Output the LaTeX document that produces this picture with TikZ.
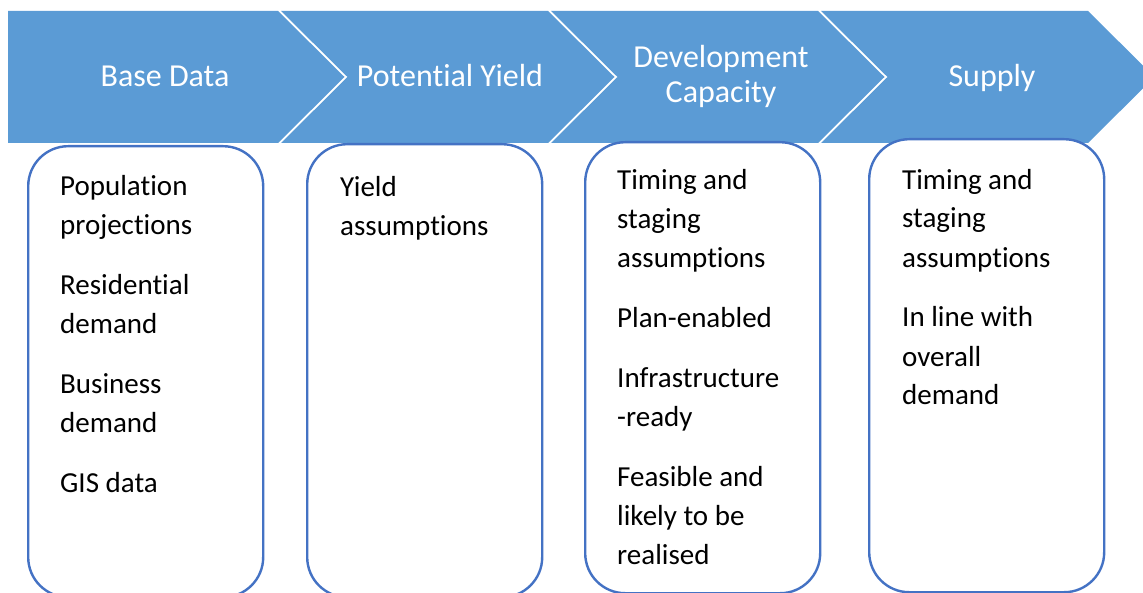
\documentclass[tikz,border=0pt]{standalone}
\usepackage{fontspec}
\setmainfont{Carlito}[Ligatures=NoCommon]
\usetikzlibrary{positioning}
\definecolor{bleu}{RGB}{91,155,213}
\definecolor{trait}{RGB}{68,114,196}

\begin{document}
\begin{tikzpicture}[x=1pt,y=-1pt,
  titre/.style={text=white,font=\fontsize{32}{35}\selectfont,align=center,anchor=base,inner sep=0pt},
  boite/.style={draw=trait,line width=2.4pt,fill=white,rounded corners=40pt,minimum width=235pt,anchor=north west,inner sep=0pt},
  liste/.style={font=\fontsize{29}{39}\selectfont,align=left,anchor=base west,inner sep=0pt}]
\useasboundingbox (0,0) rectangle (1143,593);
\clip (0,0) rectangle (1143,593);
% bandeau des etapes
\def\chevron{(0,0)--(267,0)--(333.5,66)--(267,132)--(0,132)--(66.5,66)--cycle}
\fill[bleu](8,11)--(278,11)--(344.5,77)--(278,143)--(8,143)--cycle;
\foreach \i in {0,1,2}
  \fill[bleu,shift={(281+270*\i,11)}] \chevron;
% la base d'un texte sur plusieurs lignes est celle de la derniere ligne
\node[titre] (tbase) at (165,87) {Base Data};
\node[titre] (trend) at (450,87) {Potential Yield};
\node[titre] (tcapa) at (721,103) {Development\\Capacity};
\node[titre] (toffre) at (992,87) {Supply};
% colonnes
\node[boite,minimum height=451pt] (bbase) at (27,145) {};
\node[boite,minimum height=453pt] (brend) at (306,143) {};
\node[boite,minimum height=451pt] (bcapa) at (584,141) {};
\node[boite,minimum height=453pt] (boffre) at (868,138) {};
\node[liste] (lbase) at (60,492) {Population\\projections\\[21pt]Residential\\demand\\[21pt]Business\\demand\\[21pt]GIS data};
\node[liste] (lrend) at (340,236) {Yield\\assumptions};
\node[liste] (lcapa) at (617,564) {Timing and\\staging\\assumptions\\[21pt]Plan-enabled\\[21pt]Infrastructure\\-ready\\[21pt]Feasible and\\likely to be\\realised};
\node[liste] (loffre) at (902,405) {Timing and\\staging\\assumptions\\[21pt]In line with\\overall\\demand};
\end{tikzpicture}
\end{document}
